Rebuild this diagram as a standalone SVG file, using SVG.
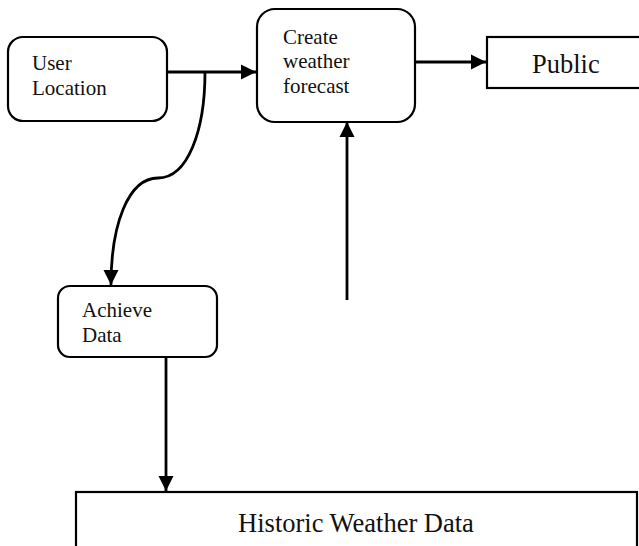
<svg xmlns="http://www.w3.org/2000/svg" width="639" height="546" viewBox="0 0 639 546">
  <style>
    .box { fill: #fff; stroke: #000; stroke-width: 2.2; }
    .link { fill: none; stroke: #000; stroke-width: 2.8; }
    text { font-family: 'Liberation Serif', 'DejaVu Serif', serif; fill: #111; }
    .lbl { font-size: 21px; }
    .big { font-size: 26.5px; }
  </style>
  <defs>
    <marker id="arrow" markerUnits="userSpaceOnUse" markerWidth="16" markerHeight="16" viewBox="0 0 16 16" refX="15" refY="8" orient="auto">
      <path d="M0,0.5 L15,8 L0,15.5 Z" fill="#000"/>
    </marker>
  </defs>

  <rect width="639" height="546" fill="#fff"/>

  <g id="connectors">
    <path class="link" d="M167,72 L256,72" marker-end="url(#arrow)"/>
    <path class="link" d="M205,72 C205,130 188,178 158,178 C128,178 111,225 111,285" marker-end="url(#arrow)"/>
    <path class="link" d="M415,62 L486,62" marker-end="url(#arrow)"/>
    <path class="link" d="M347,300 L347,122" marker-end="url(#arrow)"/>
    <path class="link" d="M166,357 L166,491" marker-end="url(#arrow)"/>
  </g>

  <g id="user-location">
    <rect class="box" x="8" y="37" width="159" height="84" rx="15"/>
    <text class="lbl" x="32" y="70">User</text>
    <text class="lbl" x="32" y="95">Location</text>
  </g>

  <g id="create-forecast">
    <rect class="box" x="257" y="9" width="158" height="113" rx="18"/>
    <text class="lbl" x="283" y="44">Create</text>
    <text class="lbl" x="283" y="68">weather</text>
    <text class="lbl" x="283" y="93">forecast</text>
  </g>

  <g id="public">
    <rect class="box" x="487" y="37" width="160" height="51"/>
    <text class="big" x="532" y="73">Public</text>
  </g>

  <g id="achieve-data">
    <rect class="box" x="58" y="286" width="159" height="71" rx="12"/>
    <text class="lbl" x="82" y="317">Achieve</text>
    <text class="lbl" x="82" y="342">Data</text>
  </g>

  <g id="historic-weather-data">
    <rect class="box" x="76" y="492" width="561" height="60"/>
    <text class="big" x="356" y="532" text-anchor="middle">Historic Weather Data</text>
  </g>
</svg>
